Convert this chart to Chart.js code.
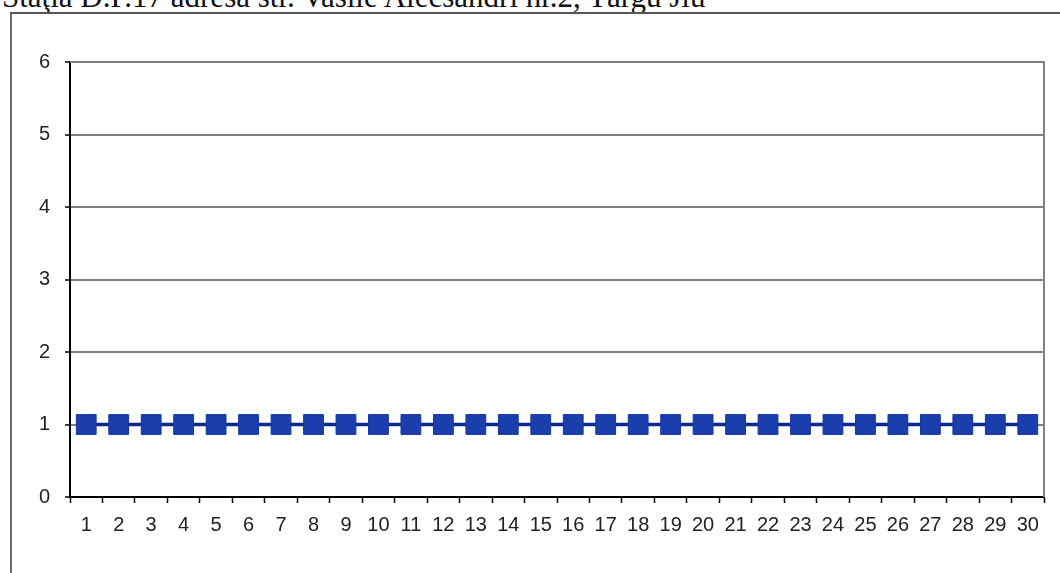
<!DOCTYPE html>
<html>
<head>
<meta charset="utf-8">
<script src="https://cdn.jsdelivr.net/npm/chart.js@4"></script>
<style>
  html, body { margin: 0; padding: 0; background: #ffffff; overflow: hidden; }
  #wrap { position: relative; width: 1060px; height: 573px; }
  #title { position: absolute; left: 2px; top: -21px; font-family: "Liberation Serif", "DejaVu Serif", serif; font-size: 31px; color: #111; white-space: nowrap; }
  #frame { position: absolute; left: 10px; top: 12px; width: 1100px; height: 600px; border-left: 2px solid #6a6a6a; border-top: 2px solid #555; }
  #c { position: absolute; left: 0; top: 0; }
</style>
</head>
<body>
<div id="wrap">
  <div id="title">Staţia D.P.17 adresa str. Vasile Alecsandri nr.2, Târgu Jiu</div>
  <div id="frame"></div>
  <canvas id="c" width="1060" height="573"></canvas>
</div>
<script>
const categories = ["1","2","3","4","5","6","7","8","9","10","11","12","13","14","15","16","17","18","19","20","21","22","23","24","25","26","27","28","29","30"];
const values = [1,1,1,1,1,1,1,1,1,1,1,1,1,1,1,1,1,1,1,1,1,1,1,1,1,1,1,1,1,1];
const yTicks = [0,1,2,3,4,5,6];

const plotBorder = {
  id: 'plotBorder',
  afterDraw(chart) {
    const a = chart.chartArea, ctx = chart.ctx;
    ctx.save();
    ctx.strokeStyle = '#808080';
    ctx.lineWidth = 2;
    ctx.beginPath();
    ctx.moveTo(a.left, a.top);
    ctx.lineTo(a.right, a.top);
    ctx.lineTo(a.right, a.bottom);
    ctx.stroke();
    ctx.restore();
  }
};

new Chart(document.getElementById('c'), {
  type: 'line',
  data: {
    labels: categories,
    datasets: [{
      data: values,
      borderColor: '#0b2a8c',
      borderWidth: 3.5,
      backgroundColor: '#1a3eac',
      pointStyle: 'rect',
      pointRadius: 14,
      pointHoverRadius: 14,
      pointBorderColor: '#15369f',
      pointBorderWidth: 1,
      pointBackgroundColor: '#1a3eac',
      tension: 0
    }]
  },
  options: {
    responsive: false,
    animation: false,
    devicePixelRatio: 1,
    layout: { padding: { left: 10, right: 16, top: 62, bottom: 0 } },
    plugins: { legend: { display: false }, tooltip: { enabled: false }, title: { display: false } },
    scales: {
      x: {
        type: 'category',
        offset: true,
        afterFit(s) { s.height = 76; },
        grid: { offset: true, drawOnChartArea: false, drawTicks: true, tickLength: 6, tickColor: '#000', tickWidth: 1.5 },
        border: { display: true, color: '#000', width: 2 },
        ticks: { color: '#222', padding: 10, maxRotation: 0, autoSkip: false, font: { family: 'Liberation Sans', size: 20 } }
      },
      y: {
        min: 0,
        max: 6,
        afterFit(s) { s.width = 60; },
        afterBuildTicks(s) { s.ticks = yTicks.map(v => ({ value: v })); },
        grid: { color: '#808080', lineWidth: 2, drawTicks: true, tickLength: 5, tickColor: '#000', tickWidth: 1.5 },
        border: { display: true, color: '#000', width: 2 },
        ticks: { color: '#222', padding: 15, font: { family: 'Liberation Sans', size: 20 } }
      }
    }
  },
  plugins: [plotBorder]
});
</script>
</body>
</html>
